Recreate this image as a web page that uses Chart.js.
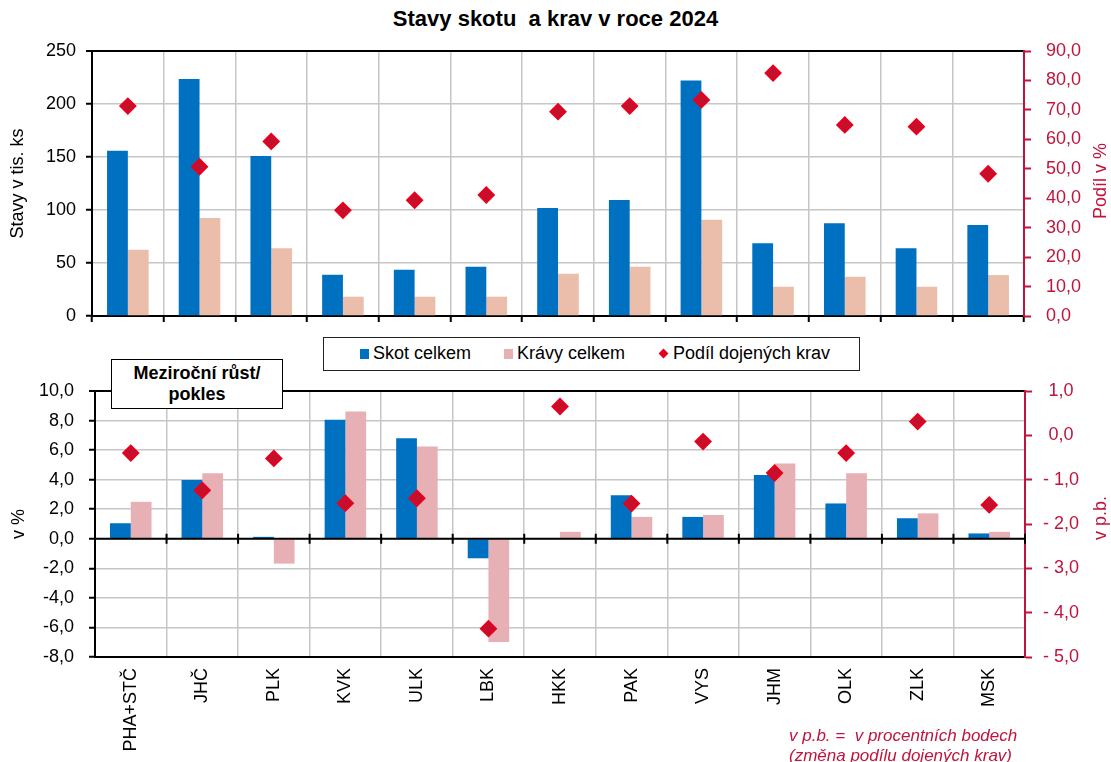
<!DOCTYPE html>
<html><head><meta charset="utf-8">
<script src="https://cdn.jsdelivr.net/npm/chart.js@4/dist/chart.umd.min.js"></script>
<style>
body{margin:0;background:#fff;width:1111px;height:762px;overflow:hidden;position:relative;font-family:'Liberation Sans',Arial,sans-serif;color:#000}
canvas{position:absolute;left:0}
#c1{top:0}
#c2{top:330px}
#title{position:absolute;left:0;width:1111px;top:6px;text-align:center;font-weight:bold;font-size:22px;white-space:pre}
#legend{position:absolute;left:323px;top:337px;width:535px;height:32px;border:1.5px solid #222;background:#fff;font-size:18px}
#legend .it{position:absolute;top:5px;white-space:nowrap}
#legend .sw{display:inline-block;width:9px;height:10px;margin-right:4px;vertical-align:0px}
#legend .dm{display:inline-block;width:7px;height:7px;background:#e3001b;transform:rotate(45deg);margin-right:6px;vertical-align:2px}
#box{position:absolute;left:111px;top:359px;width:172px;height:50px;border:1.5px solid #000;background:#fff;font-weight:bold;font-size:18px;text-align:center;line-height:21px;padding-top:3px;box-sizing:border-box}
.rt{position:absolute;transform:translate(-50%,-50%) rotate(-90deg);white-space:nowrap;color:#c0143c;font-size:18px}
#note{position:absolute;left:789px;top:726px;color:#c0143c;font-style:italic;font-size:17px;line-height:20px;white-space:pre}
</style></head><body>
<div id="title">Stavy skotu  a krav v roce 2024</div>
<canvas id="c1" width="1111" height="330"></canvas>
<canvas id="c2" width="1111" height="432"></canvas>
<div id="legend"></div>
<div id="box">Meziroční růst/<br>pokles</div>
<div class="rt" style="left:1100px;top:181px">Podíl v %</div>
<div class="rt" style="left:1100px;top:518px">v p.b.</div>
<div id="note">v p.b. =  v procentních bodech
(změna podílu dojených krav)</div>
<script>
const categories = ['PHA+STČ','JHČ','PLK','KVK','ULK','LBK','HKK','PAK','VYS','JHM','OLK','ZLK','MSK'];
const seriesNames = ['Skot celkem','Krávy celkem','Podíl dojených krav'];
// top chart: stocks in thousand head, share of dairy cows in %
const skotStavy = [155.9,223.6,150.9,38.9,43.6,46.4,101.9,109.5,222.1,68.7,87.5,64.0,85.9];
const kravyStavy = [62.4,92.5,64.0,18.2,18.2,18.2,39.8,46.4,90.7,27.6,37.0,27.6,38.6];
const podilDojenych = [71.3,50.7,59.3,35.9,39.3,41.1,69.4,71.3,73.4,82.5,64.9,64.3,48.3];
// bottom chart: year-on-year change in %, change of share in p.p.
const skotZmena = [1.05,3.98,0.13,8.05,6.8,-1.32,-0.05,2.95,1.48,4.32,2.39,1.39,0.36];
const kravyZmena = [2.5,4.43,-1.68,8.61,6.24,-6.98,0.47,1.48,1.61,5.1,4.43,1.72,0.47];
const podilZmena = [-0.40,-1.24,-0.52,-1.53,-1.42,-4.36,0.65,-1.54,-0.14,-0.85,-0.40,0.31,-1.57];
const topLeftTicks = [0,50,100,150,200,250];
const topRightTicks = [0,10,20,30,40,50,60,70,80,90];
const botLeftTicks = [-8,-6,-4,-2,0,2,4,6,8,10];
const botRightTicks = [-5,-4,-3,-2,-1,0,1];

const BLUE='#0070c0', PINK_TOP='#ebbeab', PINK_BOT='#e6b0b4', RED='#c0143c';
const FONT="'Liberation Sans', Arial, sans-serif";
const GRID='#c6c6c6';
const fmt1 = v => v.toFixed(1).replace('.',',');
const fmtPb = v => (v < 0 ? '- ' + fmt1(-v) : fmt1(v));

// legend (HTML)
const lg = document.getElementById('legend');
const legItems = [
  {x:36, html:`<span class="sw" style="background:${BLUE}"></span>${seriesNames[0]}`},
  {x:180, html:`<span class="sw" style="background:${PINK_BOT}"></span>${seriesNames[1]}`},
  {x:336, html:`<span class="dm"></span>${seriesNames[2]}`}
];
legItems.forEach(it => { const d=document.createElement('div'); d.className='it'; d.style.left=it.x+'px'; d.innerHTML=it.html; lg.appendChild(d); });

Chart.defaults.font.family = FONT;
Chart.defaults.font.size = 18;
Chart.defaults.color = '#000';

const pointDs = (data, axis) => ({
  type:'line', label: seriesNames[2], data, yAxisID: axis, showLine:false, order:0,
  pointStyle:'rectRot', pointRadius:7.5, pointHoverRadius:7.5,
  pointBackgroundColor:'#c40f2d', pointBorderColor:'#e8001c', pointBorderWidth:2
});
const noPad = s => { s.paddingTop = 0; s.paddingBottom = 0; };

// top chart
new Chart(document.getElementById('c1'), {
  type:'bar',
  data:{ labels: categories, datasets:[
    pointDs(podilDojenych,'y2'),
    {label:seriesNames[0], data:skotStavy, backgroundColor:BLUE, yAxisID:'y', order:1, categoryPercentage:0.58, barPercentage:1.0},
    {label:seriesNames[1], data:kravyStavy, backgroundColor:PINK_TOP, yAxisID:'y', order:1, categoryPercentage:0.58, barPercentage:1.0}
  ]},
  options:{
    responsive:false, animation:false,
    layout:{padding:{top:51,bottom:0,left:0,right:0}},
    plugins:{legend:{display:false}, tooltip:{enabled:false}},
    scales:{
      x:{ offset:true, grid:{offset:true, color:GRID, lineWidth:1.5, tickColor:'#000', tickLength:6, tickWidth:2},
          border:{color:'#000', width:2}, ticks:{display:false},
          afterFit: s => { s.height = 14; s.paddingLeft = 0; s.paddingRight = 0; } },
      y:{ position:'left', min:0, max:250, afterBuildTicks: s => { s.ticks = topLeftTicks.map(v=>({value:v})); },
          grid:{ color: c => (c.tick && c.tick.value===250) ? '#000' : GRID, lineWidth: c => (c.tick && c.tick.value===250) ? 2 : 1.5, tickColor:'#000', tickLength:6, tickWidth:2 },
          border:{color:'#000', width:2},
          ticks:{ padding:10, callback: v => String(v) },
          title:{ display:true, text:'Stavy v tis. ks', font:{size:18}, padding:{top:7,bottom:0} },
          afterFit: s => { s.width = 92; noPad(s); } },
      y2:{ position:'right', min:0, max:90, afterBuildTicks: s => { s.ticks = topRightTicks.map(v=>({value:v})); },
          grid:{ drawOnChartArea:false, tickColor:RED, tickLength:7, tickWidth:2 },
          border:{color:RED, width:2},
          ticks:{ color:RED, padding:15, callback: v => fmt1(v) },
          afterFit: s => { s.width = 87; noPad(s); } }
    }
  }
});

// zero line with crossing ticks for bottom chart
const zeroAxis = {
  id:'zeroAxis',
  afterDatasetsDraw(chart){
    const {ctx, chartArea:a, scales:{x, y}} = chart;
    const y0 = y.getPixelForValue(0);
    ctx.save();
    ctx.strokeStyle='#000'; ctx.lineWidth=2;
    ctx.beginPath(); ctx.moveTo(a.left, y0); ctx.lineTo(a.right, y0); ctx.stroke();
    for (let i=0;i<=categories.length;i++){
      const px = x.getPixelForValue(i-0.5);
      ctx.beginPath(); ctx.moveTo(px, y0-5); ctx.lineTo(px, y0+5); ctx.stroke();
    }
    ctx.restore();
  }
};

new Chart(document.getElementById('c2'), {
  type:'bar',
  data:{ labels: categories, datasets:[
    pointDs(podilZmena,'y2'),
    {label:seriesNames[0], data:skotZmena, backgroundColor:BLUE, yAxisID:'y', order:1, categoryPercentage:0.58, barPercentage:1.0},
    {label:seriesNames[1], data:kravyZmena, backgroundColor:PINK_BOT, yAxisID:'y', order:1, categoryPercentage:0.58, barPercentage:1.0}
  ]},
  plugins:[zeroAxis],
  options:{
    responsive:false, animation:false,
    layout:{padding:{top:61,bottom:0,left:0,right:0}},
    plugins:{legend:{display:false}, tooltip:{enabled:false}},
    scales:{
      x:{ offset:true, grid:{offset:true, color:GRID, lineWidth:1.5, drawTicks:false},
          border:{color:'#000', width:2},
          ticks:{ autoSkip:false, minRotation:90, maxRotation:90, padding:11, font:{size:18} },
          afterFit: s => { s.height = 105; s.paddingLeft = 0; s.paddingRight = 0; } },
      y:{ position:'left', min:-8, max:10, afterBuildTicks: s => { s.ticks = botLeftTicks.map(v=>({value:v})); },
          grid:{ color: c => (c.tick && c.tick.value===10) ? '#000' : GRID, lineWidth: c => (c.tick && c.tick.value===10) ? 2 : 1.5, tickColor:'#000', tickLength:6, tickWidth:2 },
          border:{color:'#000', width:2},
          ticks:{ padding:15, callback: v => fmt1(v) },
          title:{ display:true, text:'v %', font:{size:18}, padding:{top:8,bottom:0} },
          afterFit: s => { s.width = 95; noPad(s); } },
      y2:{ position:'right', min:-5, max:1, afterBuildTicks: s => { s.ticks = botRightTicks.map(v=>({value:v})); },
          grid:{ drawOnChartArea:false, tickColor:RED, tickLength:7, tickWidth:2 },
          border:{color:RED, width:2},
          ticks:{ color:RED, padding:11, crossAlign:'center', callback: v => fmtPb(v) },
          afterFit: s => { s.width = 86; noPad(s); } }
    }
  }
});
</script>
</body></html>
